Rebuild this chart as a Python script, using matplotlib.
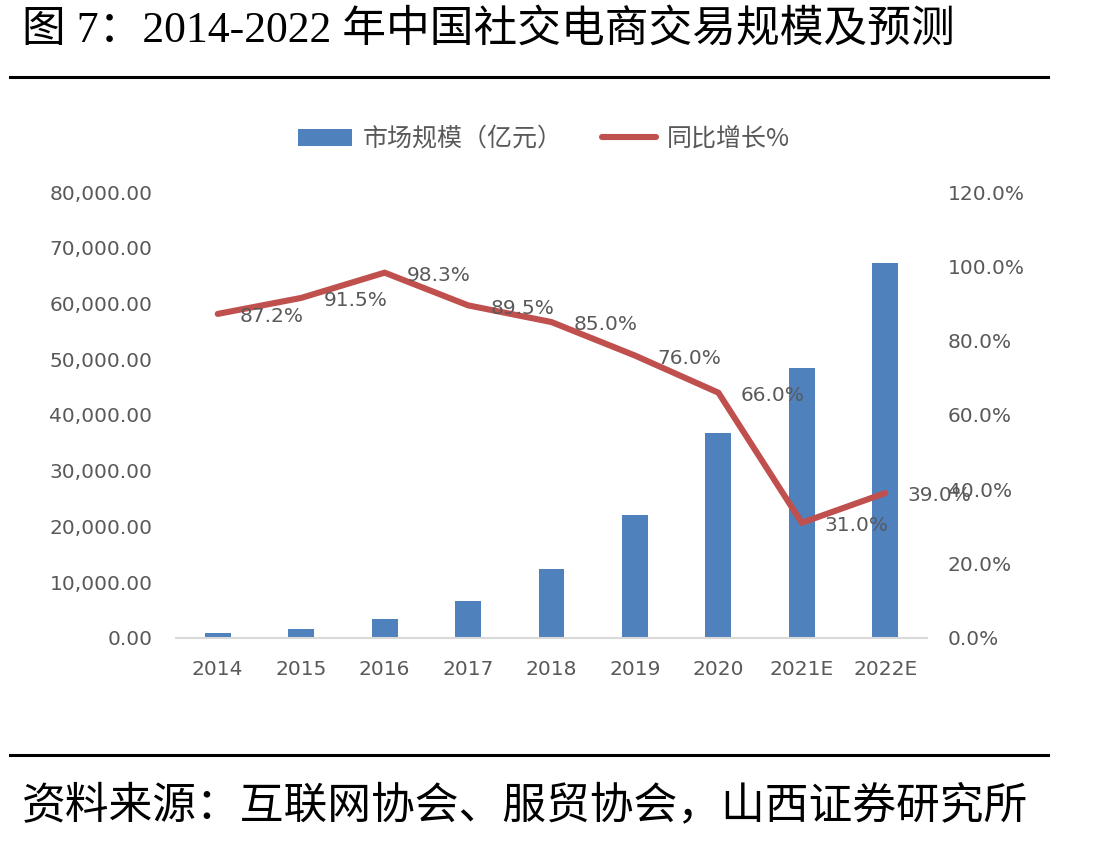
import matplotlib.pyplot as plt
from matplotlib.ticker import StrMethodFormatter, MultipleLocator
from matplotlib.patches import Patch
from matplotlib.lines import Line2D

plt.rcParams['font.family'] = ['Noto Sans CJK SC', 'DejaVu Sans']

# 数据
years = ['2014', '2015', '2016', '2017', '2018', '2019', '2020', '2021E', '2022E']
market_size = [850, 1560, 3460, 6640, 12380, 22060, 36830, 48370, 67200]   # 亿元
growth = [87.2, 91.5, 98.3, 89.5, 85.0, 76.0, 66.0, 31.0, 39.0]            # %

title = '图 7：2014-2022 年中国社交电商交易规模及预测'
source = '资料来源：互联网协会、服贸协会，山西证券研究所'

BLUE = '#4F81BD'
RED = '#C0504D'
GREY = '#595959'

fig = plt.figure(figsize=(10.96, 8.41), dpi=100)
ax = fig.add_axes([0.1606, 0.2414, 0.6852, 0.5303])
ax2 = ax.twinx()

x = range(len(years))
ax.bar(x, market_size, width=0.31, color=BLUE, zorder=2)
ax2.plot(x, growth, color=RED, linewidth=4.4, solid_capstyle='round', zorder=3)

for i, g in enumerate(growth):
    ax2.annotate(f'{g:.1f}%', (i, g), xytext=(39, -2), textcoords='offset points',
                 ha='center', va='center', fontsize=14.5, color=GREY,
                 family='DejaVu Sans')

ax.set_xlim(-0.5, len(years) - 0.5)
ax.set_ylim(0, 80000)
ax2.set_ylim(0, 120)
ax.yaxis.set_major_locator(MultipleLocator(10000))
ax2.yaxis.set_major_locator(MultipleLocator(20))
ax.yaxis.set_major_formatter(StrMethodFormatter('{x:,.2f}'))
ax2.yaxis.set_major_formatter(StrMethodFormatter('{x:.1f}%'))
ax.set_xticks(list(x))
ax.set_xticklabels(years)

for a in (ax, ax2):
    for s in a.spines.values():
        s.set_visible(False)
    a.tick_params(length=0, labelsize=14.5, labelcolor=GREY)
    for lbl in a.get_xticklabels() + a.get_yticklabels():
        lbl.set_family('DejaVu Sans')
ax.spines['bottom'].set_visible(True)
ax.spines['bottom'].set_color('#D9D9D9')
ax.spines['bottom'].set_linewidth(1.5)
ax.tick_params(axis='y', pad=17)
ax.tick_params(axis='x', pad=16)
ax2.tick_params(axis='y', pad=15)

handles = [Patch(facecolor=BLUE, edgecolor='none'),
           Line2D([0], [0], color=RED, linewidth=4.4, solid_capstyle='round')]
fig.legend(handles, ['市场规模（亿元）', '同比增长%'], loc='center',
           bbox_to_anchor=(544 / 1096, 1 - 139 / 841), ncol=2, frameon=False,
           fontsize=18, labelcolor=GREY, handlelength=2.16, handletextpad=0.4,
           columnspacing=1.6)

# 标题、来源与分隔线
fig.text(22 / 1096, 1 - 30 / 841, title, fontsize=31.5, va='center', ha='left',
         family=['Liberation Serif', 'Noto Sans CJK SC'])
fig.text(22 / 1096, 1 - 805 / 841, source, fontsize=31.5, va='center', ha='left',
         fontweight='medium')
for yy in (77, 755):
    fig.add_artist(Line2D([10 / 1096, 1048 / 1096], [1 - yy / 841] * 2,
                          color='black', linewidth=2.2))

fig.savefig('out.png', dpi=100)
